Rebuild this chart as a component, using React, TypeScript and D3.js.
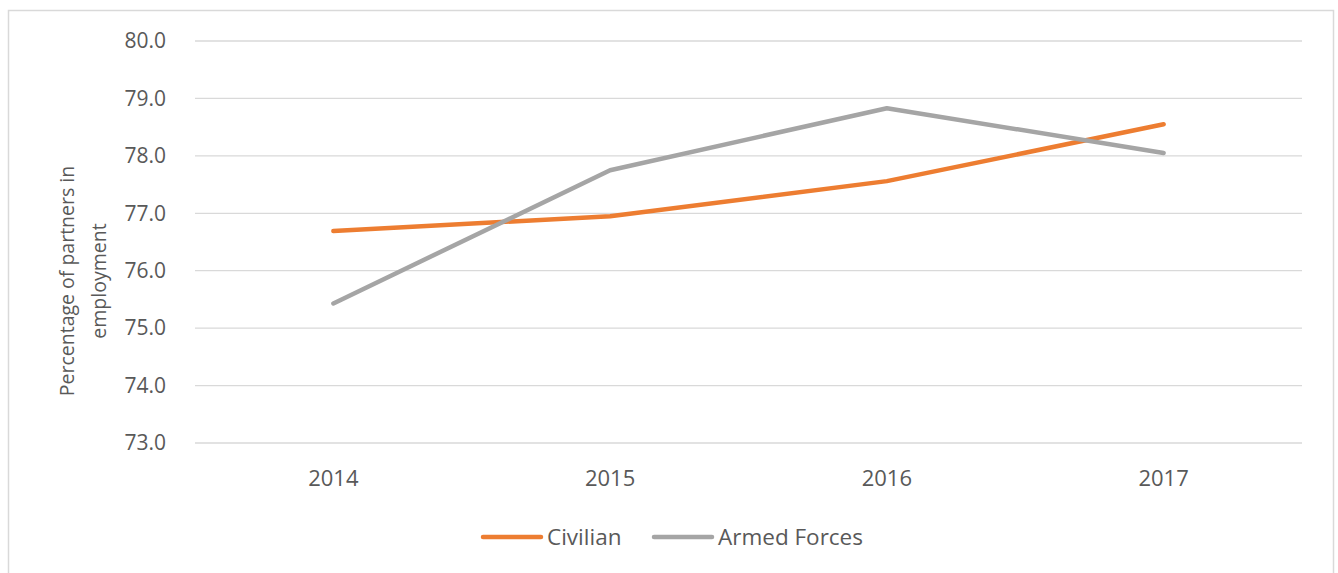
import React, { useRef, useEffect } from 'react';
import * as d3 from 'd3';

const years = ['2014', '2015', '2016', '2017'];
const civilian = [76.69, 76.95, 77.56, 78.55];
const armedForces = [75.43, 77.75, 78.83, 78.05];
const yTicks = [73, 74, 75, 76, 77, 78, 79, 80];

const seriesList = [
    { name: 'Civilian', values: civilian, color: '#ed7d31' },
    { name: 'Armed Forces', values: armedForces, color: '#a5a5a5' }
];

const App = () => {
    const svgRef = useRef<SVGSVGElement>(null);

    const totalWidth = 1338;
    const totalHeight = 573;
    const plot = { left: 195, right: 1302, top: 41, bottom: 443 };
    const font = '"Open Sans", "Noto Sans", sans-serif';

    useEffect(() => {
        const svg = d3.select(svgRef.current);
        svg.selectAll('*').remove();

        // frame
        svg.append('rect')
            .attr('x', 8.5)
            .attr('y', 10.5)
            .attr('width', 1325)
            .attr('height', 580)
            .attr('fill', 'white')
            .attr('stroke', '#d9d9d9')
            .attr('stroke-width', 1.5);

        const x = d3.scaleBand()
            .domain(years)
            .range([plot.left, plot.right]);

        const y = d3.scaleLinear()
            .domain([73, 80])
            .range([plot.bottom, plot.top]);

        // grid lines
        svg.append('g')
            .selectAll('line')
            .data(yTicks)
            .enter()
            .append('line')
            .attr('x1', plot.left)
            .attr('x2', plot.right)
            .attr('y1', d => y(d))
            .attr('y2', d => y(d))
            .attr('stroke', '#d9d9d9')
            .attr('stroke-width', 1.3);

        // y tick labels
        svg.append('g')
            .selectAll('text')
            .data(yTicks)
            .enter()
            .append('text')
            .attr('x', 166)
            .attr('y', d => y(d))
            .attr('dy', '0.35em')
            .attr('text-anchor', 'end')
            .style('font-family', font)
            .style('font-size', '21px')
            .style('fill', '#595959')
            .text(d => d.toFixed(1));

        // x tick labels
        svg.append('g')
            .selectAll('text')
            .data(years)
            .enter()
            .append('text')
            .attr('x', d => (x(d) as number) + x.bandwidth() / 2)
            .attr('y', 478)
            .attr('dy', '0.35em')
            .attr('text-anchor', 'middle')
            .style('font-family', font)
            .style('font-size', '22px')
            .style('fill', '#595959')
            .text(d => d);

        // y axis title
        const title = svg.append('text')
            .attr('transform', 'translate(84, 281) rotate(-90)')
            .attr('text-anchor', 'middle')
            .style('font-family', font)
            .style('font-size', '19.5px')
            .style('fill', '#595959');
        title.append('tspan').attr('x', 0).attr('dy', '-0.5em').text('Percentage of partners in');
        title.append('tspan').attr('x', 0).attr('dy', '1.65em').text('employment');

        const line = d3.line<number>()
            .x((d, i) => (x(years[i]) as number) + x.bandwidth() / 2)
            .y(d => y(d));

        svg.append('g')
            .selectAll('path')
            .data(seriesList)
            .enter()
            .append('path')
            .attr('d', d => line(d.values))
            .attr('fill', 'none')
            .attr('stroke', d => d.color)
            .attr('stroke-width', 4.5)
            .attr('stroke-linecap', 'round')
            .attr('stroke-linejoin', 'round');

        // legend
        const legendX = [483, 654];
        const legendItem = svg.append('g')
            .selectAll('g')
            .data(seriesList)
            .enter()
            .append('g')
            .attr('transform', (d, i) => `translate(${legendX[i]}, 537)`);

        legendItem.append('line')
            .attr('x1', 0)
            .attr('x2', 58)
            .attr('stroke', d => d.color)
            .attr('stroke-width', 4.5)
            .attr('stroke-linecap', 'round');

        legendItem.append('text')
            .attr('x', 64)
            .attr('dy', '0.35em')
            .style('font-family', font)
            .style('font-size', '22.5px')
            .style('fill', '#595959')
            .text(d => d.name);
    }, []);

    return (
        <svg
            ref={svgRef}
            width={totalWidth}
            height={totalHeight}
            style={{ position: 'absolute', left: 0, top: 0 }}
        ></svg>
    );
};

export default App;
